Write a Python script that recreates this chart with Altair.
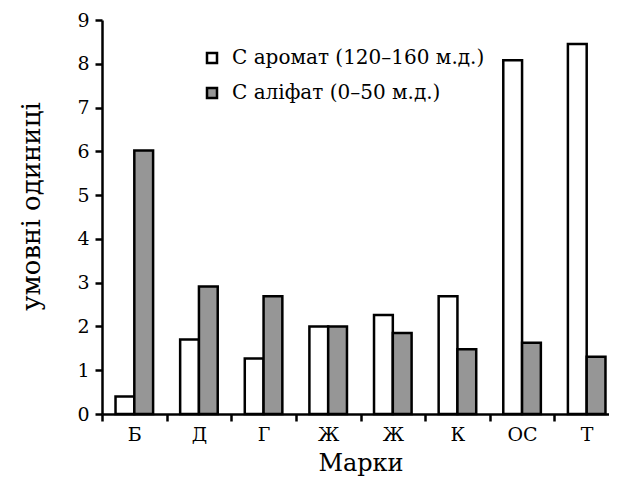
import altair as alt
import pandas as pd

categories = ["Б", "Д", "Г", "Ж", "Ж", "К", "ОС", "Т"]
aromat = [0.4, 1.7, 1.27, 2.0, 2.26, 2.69, 8.08, 8.45]
alifat = [6.02, 2.91, 2.69, 2.0, 1.85, 1.48, 1.63, 1.31]
series_names = ["С аромат (120–160 м.д.)", "С аліфат (0–50 м.д.)"]
fill_colors = ["#ffffff", "#969696"]
y_ticks = [0, 1, 2, 3, 4, 5, 6, 7, 8, 9]

keys = [f"{i}:{c}" for i, c in enumerate(categories)]
rows = []
for k, a, b in zip(keys, aromat, alifat):
    rows.append({"key": k, "series": series_names[0], "value": a})
    rows.append({"key": k, "series": series_names[1], "value": b})
df = pd.DataFrame(rows)

font = "DejaVu Serif"

common_axis = dict(
    grid=False,
    domainColor="black",
    domainWidth=2.5,
    tickColor="black",
    tickWidth=2.5,
    tickSize=7,
    labelFont=font,
    labelFontSize=19,
    labelColor="black",
    titleFont=font,
    titleFontWeight="normal",
    titleColor="black",
)

chart = alt.Chart(df).mark_bar(stroke="black", strokeWidth=2.5, strokeJoin="miter").encode(
    x=alt.X(
        "key:N",
        sort=keys,
        scale=alt.Scale(domain=keys, range=[0, 517], paddingInner=0, paddingOuter=0),
        axis=alt.Axis(
            title="Марки",
            labelExpr="split(datum.label, ':')[1]",
            tickBand="extent",
            labelAngle=0,
            labelPadding=4,
            titlePadding=7,
            titleFontSize=24,
            **common_axis,
        ),
    ),
    xOffset=alt.XOffset(
        "series:N",
        sort=series_names,
        scale=alt.Scale(domain=series_names, paddingInner=0, paddingOuter=0.72),
    ),
    y=alt.Y(
        "value:Q",
        scale=alt.Scale(domain=[0, 9], nice=False),
        axis=alt.Axis(values=y_ticks, title="умовні одиниці", titlePadding=32,
                      titleY=186, labelPadding=6, titleFontSize=26, **common_axis),
    ),
    fill=alt.Fill(
        "series:N",
        sort=series_names,
        scale=alt.Scale(domain=series_names, range=fill_colors),
        legend=alt.Legend(
            title=None,
            orient="none",
            legendX=100,
            legendY=28,
            symbolType="square",
            symbolSize=100,
            symbolStrokeColor="black",
            symbolStrokeWidth=2.5,
            labelFont=font,
            labelFontSize=20,
            labelColor="black",
            labelOffset=10,
            labelLimit=400,
            rowPadding=15,
            padding=0,
        ),
    ),
).properties(
    width=507,
    height=394,
    autosize=alt.AutoSizeParams(type="none"),
    padding={"left": 94, "top": 12, "right": 0, "bottom": 66},
).configure_view(
    stroke=None
)

chart.save("out.html", embed_options={"renderer": "svg", "actions": False})
